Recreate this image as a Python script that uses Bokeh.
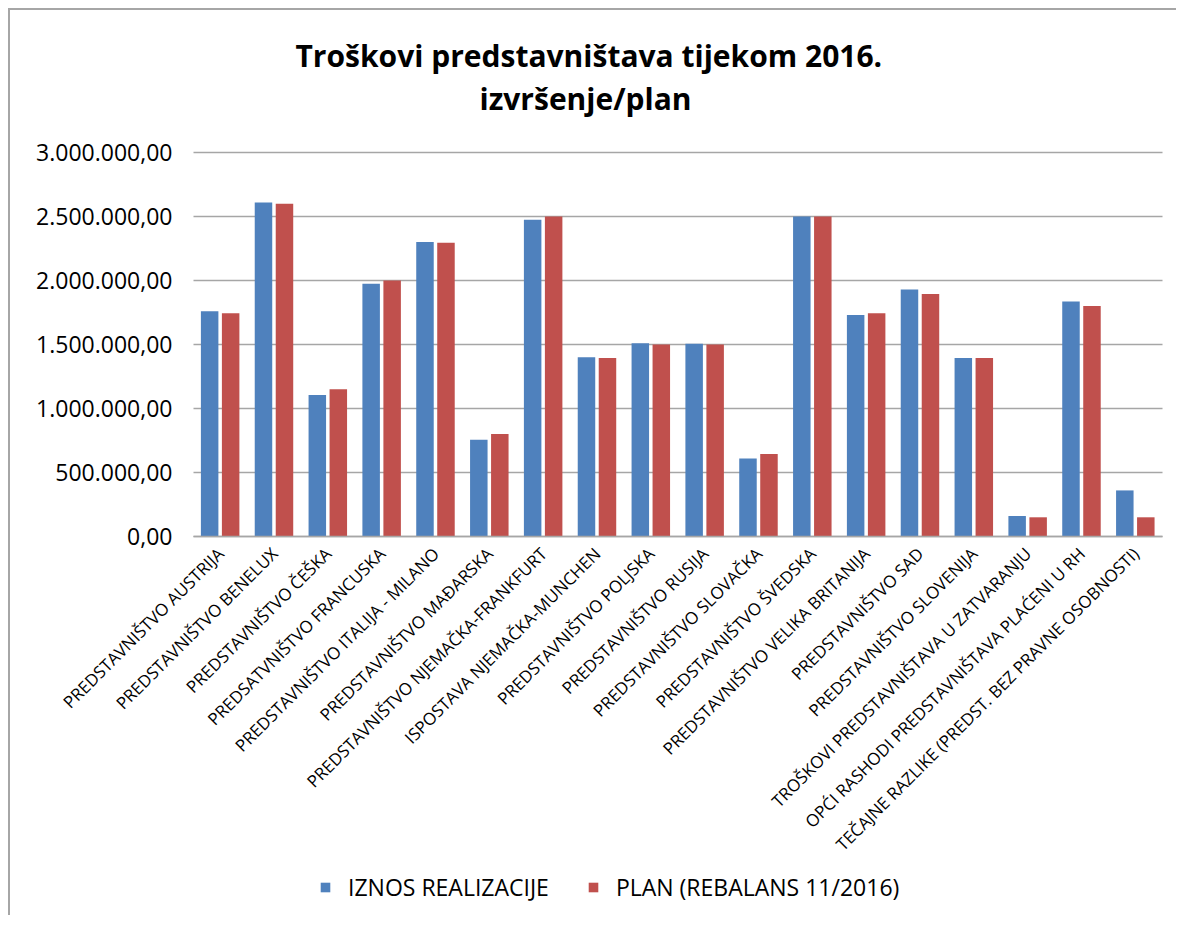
from bokeh.plotting import figure
from bokeh.models import (Range1d, FixedTicker, Legend, LegendItem,
                          Title, ColumnDataSource)
from bokeh.transform import dodge
from bokeh.embed import file_html
from bokeh.resources import INLINE
import math

categories = [
    "PREDSTAVNIŠTVO AUSTRIJA",
    "PREDSTAVNIŠTVO BENELUX",
    "PREDSTAVNIŠTVO ČEŠKA",
    "PREDSATVNIŠTVO FRANCUSKA",
    "PREDSTAVNIŠTVO ITALIJA - MILANO",
    "PREDSTAVNIŠTVO MAĐARSKA",
    "PREDSTAVNIŠTVO NJEMAČKA-FRANKFURT",
    "ISPOSTAVA NJEMAČKA-MUNCHEN",
    "PREDSTAVNIŠTVO POLJSKA",
    "PREDSTAVNIŠTVO RUSIJA",
    "PREDSTAVNIŠTVO SLOVAČKA",
    "PREDSTAVNIŠTVO ŠVEDSKA",
    "PREDSTAVNIŠTVO VELIKA BRITANIJA",
    "PREDSTAVNIŠTVO SAD",
    "PREDSTAVNIŠTVO SLOVENIJA",
    "TROŠKOVI PREDSTAVNIŠTAVA U ZATVARANJU",
    "OPĆI RASHODI PREDSTAVNIŠTAVA PLAĆENI U RH",
    "TEČAJNE RAZLIKE (PREDST. BEZ PRAVNE OSOBNOSTI)",
]

realizacija = [1760000, 2610000, 1105000, 1975000, 2300000, 755000, 2475000,
               1400000, 1510000, 1505000, 610000, 2500000, 1730000, 1930000,
               1395000, 160000, 1835000, 360000]

plan = [1745000, 2600000, 1150000, 2000000, 2295000, 800000, 2500000,
        1395000, 1500000, 1500000, 645000, 2500000, 1745000, 1895000,
        1395000, 150000, 1800000, 150000]

series_names = ["IZNOS REALIZACIJE", "PLAN (REBALANS 11/2016)"]
y_ticks = [0, 500000, 1000000, 1500000, 2000000, 2500000, 3000000]
title_lines = ["Troškovi predstavništava tijekom 2016.", "izvršenje/plan"]

BLUE = "#4F81BD"
RED = "#C0504D"
GRID = "#a6a6a6"
FONT = "Open Sans"

# ---- layout (pixels) ----
FRAME_W = 1166          # whole canvas width
FRAME_H = 783
TOP = 122
LEFT_PAD = 183          # room for value labels, left of the first category
RIGHT_PAD = 14
PLOT_W = FRAME_W - LEFT_PAD - RIGHT_PAD
N = len(categories)
CAT_PX = PLOT_W / N
VAL_TOP_GAP = 20        # px between frame top and the top tick
VAL_H = 384             # px from 0 to the top tick
Y_TOP = y_ticks[-1]
PX_PER_VAL = VAL_H / Y_TOP
Y_END = Y_TOP + VAL_TOP_GAP / PX_PER_VAL
Y_START = -(FRAME_H - VAL_TOP_GAP - VAL_H) / PX_PER_VAL
X_START = -0.5 - LEFT_PAD / CAT_PX
X_END = N - 0.5 + RIGHT_PAD / CAT_PX


def fmt(v):
    s = f"{v:,.2f}"
    return s.replace(",", "X").replace(".", ",").replace("X", ".")


xi = list(range(N))
source = ColumnDataSource(data=dict(xi=xi, real=realizacija, plan=plan))

p = figure(
    x_range=Range1d(X_START, X_END),
    y_range=Range1d(Y_START, Y_END),
    frame_width=FRAME_W, frame_height=FRAME_H,
    output_backend="svg", toolbar_location=None,
    min_border_left=0, min_border_right=0,
    min_border_top=TOP, min_border_bottom=0,
)
p.styles = {
    "margin-left": "8px", "margin-top": "8px",
    "border-left-width": "2px", "border-left-style": "solid", "border-left-color": "#a6a6a6",
    "border-top-width": "2px", "border-top-style": "solid", "border-top-color": "#a6a6a6",
    "border-right-style": "none", "border-bottom-style": "none",
}
p.outline_line_color = None
p.background_fill_color = "white"
p.border_fill_color = "white"
p.xgrid.visible = False
p.ygrid.visible = False

# horizontal gridlines across the category span
p.segment(x0=[xi[0] - 0.5] * len(y_ticks), x1=[xi[-1] + 0.5] * len(y_ticks),
          y0=y_ticks, y1=y_ticks, line_color=GRID, line_width=1.6)

r1 = p.vbar(x=dodge("xi", -0.2), top="real", width=0.325,
            source=source, fill_color=BLUE, line_color=None)
r2 = p.vbar(x=dodge("xi", 0.19), top="plan", width=0.325,
            source=source, fill_color=RED, line_color=None)

# y axis at the left edge of the category span
p.yaxis.fixed_location = xi[0] - 0.5
p.yaxis.ticker = FixedTicker(ticks=y_ticks)
p.yaxis.bounds = (y_ticks[0], y_ticks[-1])
p.yaxis.axis_line_color = None
p.yaxis.major_tick_line_color = None
p.yaxis.minor_tick_line_color = None
p.yaxis.major_label_overrides = {t: fmt(t) for t in y_ticks}
p.yaxis.major_label_text_font = FONT
p.yaxis.major_label_text_font_size = "23px"
p.yaxis.major_label_text_color = "#000000"
p.yaxis.major_label_standoff = 15

# category axis at value 0
p.xaxis.fixed_location = 0
p.xaxis.ticker = FixedTicker(ticks=xi)
p.xaxis.bounds = (xi[0] - 0.5, xi[-1] + 0.5)
p.xaxis.major_label_overrides = {i: c for i, c in zip(xi, categories)}
p.xaxis.axis_line_color = GRID
p.xaxis.axis_line_width = 1.6
p.xaxis.major_tick_line_color = None
p.xaxis.minor_tick_line_color = None
p.xaxis.major_label_orientation = math.pi / 4
p.xaxis.major_label_text_font = FONT
p.xaxis.major_label_text_font_size = "17px"
p.xaxis.major_label_text_color = "#000000"
p.xaxis.major_label_standoff = 8

# titles (spacer, second line, first line: stacked outward from the frame)
spacer = Title(text=" ", standoff=11, text_font_size="1px")
sub = Title(text=title_lines[1], align="left", offset=469, text_font=FONT,
            text_font_size="30px", text_font_style="bold", text_color="#000000",
            standoff=0)
main = Title(text=title_lines[0], align="left", offset=285, text_font=FONT,
             text_font_size="30px", text_font_style="bold", text_color="#000000",
             standoff=0)
p.add_layout(spacer, "above")
p.add_layout(sub, "above")
p.add_layout(main, "above")

legend = Legend(
    items=[LegendItem(label=series_names[0], renderers=[r1]),
           LegendItem(label=series_names[1], renderers=[r2])],
    orientation="horizontal",
    location=(309, 12),
    glyph_width=12, glyph_height=12,
    label_text_font=FONT, label_text_font_size="23px", label_text_color="#000000",
    label_standoff=17, spacing=38, margin=0, padding=2,
    border_line_color=None, background_fill_alpha=0,
)
p.add_layout(legend, "center")

open("out.html", "w").write(file_html(p, INLINE))
